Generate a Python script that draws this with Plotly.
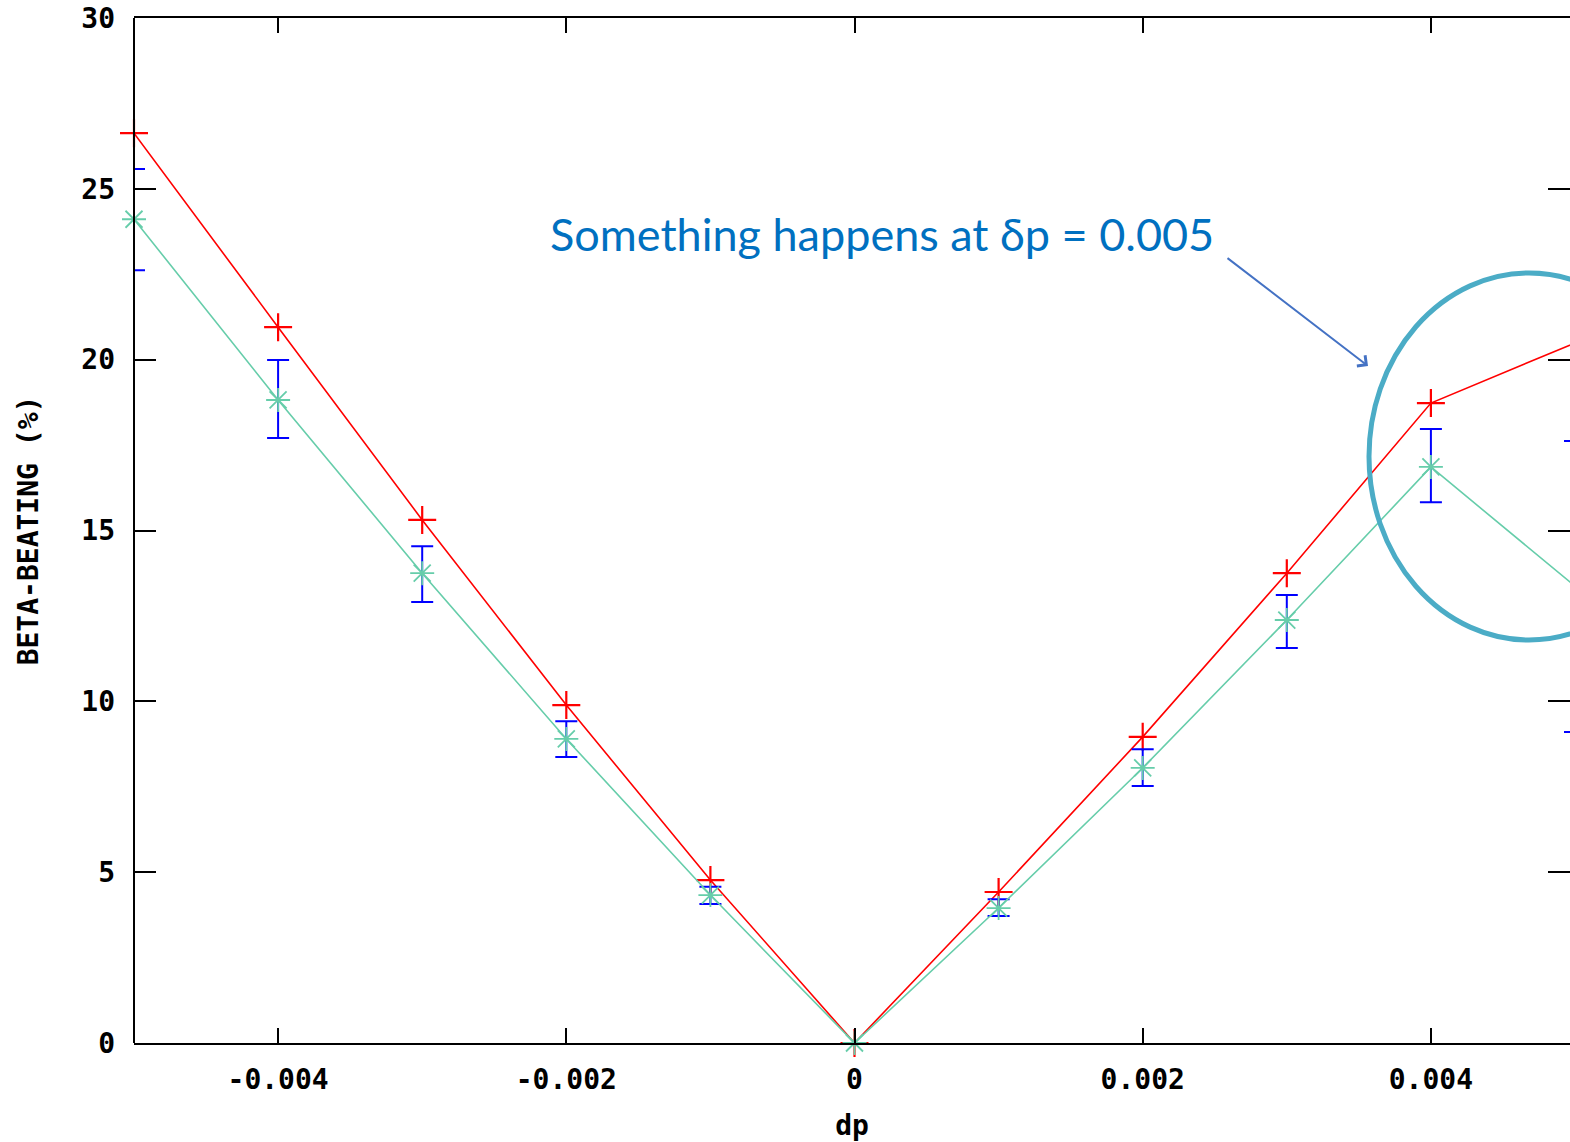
import plotly.graph_objects as go

# Momentum offsets and beta-beating values (%)
dp = [-0.005, -0.004, -0.003, -0.002, -0.001, 0.0, 0.001, 0.002, 0.003, 0.004, 0.005]
beat_model = [26.63, 20.95, 15.31, 9.89, 4.77, 0.0, 4.42, 8.96, 13.75, 18.73, 20.49]
beat_meas = [24.11, 18.82, 13.75, 8.90, 4.33, 0.0, 3.95, 8.05, 12.38, 16.86, 13.37]
err_plus = [1.47, 1.17, 0.79, 0.52, 0.24, 0.0, 0.26, 0.55, 0.73, 1.11, 4.25]
err_minus = [1.49, 1.11, 0.84, 0.53, 0.26, 0.0, 0.23, 0.53, 0.82, 1.03, 4.27]

x_tickvals = [-0.004, -0.002, 0.0, 0.002, 0.004]
x_ticktext = ["-0.004", "-0.002", "0", "0.002", "0.004"]
y_tickvals = [0, 5, 10, 15, 20, 25, 30]

FIG_W, FIG_H = 1570, 1142
M_L, M_T, M_B = 134, 18, 99
PX_PER_UNIT_X = 144100.0  # pixels per unit of dp
X_MIN = -0.005
X_MAX = X_MIN + (FIG_W - M_L) / PX_PER_UNIT_X
Y_MIN, Y_MAX = 0, 30

mono = dict(family="DejaVu Sans Mono", size=28, color="black", weight="bold")

fig = go.Figure()

fig.add_trace(go.Scatter(
    x=dp, y=beat_model, mode="lines+markers",
    line=dict(color="#ff0000", width=1.6),
    marker=dict(symbol="cross-thin-open", size=20, line=dict(color="#ff0000", width=2.2)),
    cliponaxis=False, showlegend=False,
))

fig.add_trace(go.Scatter(
    x=dp, y=beat_meas, mode="lines+markers",
    line=dict(color="#66cdaa", width=1.6),
    marker=dict(symbol="asterisk-open", size=20, color="#66cdaa",
                line=dict(color="#66cdaa", width=1.8)),
    error_y=dict(type="data", symmetric=False, array=err_plus, arrayminus=err_minus,
                 color="#0000ff", thickness=2, width=11),
    cliponaxis=False, showlegend=False,
))


def px_to_x(px):
    return X_MIN + (px - M_L) / PX_PER_UNIT_X


def py_to_y(py):
    plot_h = FIG_H - M_T - M_B
    return Y_MIN + (FIG_H - M_B - py) / plot_h * (Y_MAX - Y_MIN)


# Highlight ellipse around the last two points
fig.add_shape(type="circle", xref="x", yref="y",
              x0=px_to_x(1369), x1=px_to_x(1689),
              y0=py_to_y(640), y1=py_to_y(273),
              line=dict(color="#4bacc6", width=5), layer="above")

# Left frame line (the right one is not drawn)
fig.add_shape(type="line", xref="paper", yref="paper", x0=0, x1=0, y0=0, y1=1,
              line=dict(color="black", width=2), layer="above")

# Callout text and arrow
fig.add_annotation(x=px_to_x(882), y=py_to_y(234), xref="x", yref="y",
                   text="Something happens at δp = 0.005", showarrow=False,
                   font=dict(family="Lato", size=45, color="#0070c0", weight="normal"))
fig.add_annotation(x=px_to_x(1368), y=py_to_y(366), xref="x", yref="y",
                   ax=-142, ay=-109, text="", showarrow=True,
                   arrowhead=4, arrowsize=1.3, arrowwidth=2, arrowcolor="#4472c4")

fig.update_layout(
    width=FIG_W, height=FIG_H,
    margin=dict(l=M_L, r=0, t=M_T, b=M_B, pad=0),
    paper_bgcolor="white", plot_bgcolor="white",
    font=mono,
)

fig.update_xaxes(
    range=[X_MIN, X_MAX], tickvals=x_tickvals, ticktext=x_ticktext,
    ticks="inside", ticklen=15, tickwidth=2, tickcolor="black",
    showline=True, linecolor="black", linewidth=2, mirror="ticks",
    showgrid=False, zeroline=False, tickfont=mono, ticklabelstandoff=10,
    title=dict(text="dp", font=mono, standoff=22),
)

fig.update_yaxes(
    range=[Y_MIN, Y_MAX], tickvals=y_tickvals,
    ticks="inside", ticklen=22, tickwidth=2, tickcolor="black",
    showline=False, mirror="ticks",
    showgrid=False, zeroline=False, tickfont=mono, ticklabelstandoff=18,
    title=dict(text="BETA-BEATING (%)", font=mono, standoff=34),
)

fig.write_html("out.html")
